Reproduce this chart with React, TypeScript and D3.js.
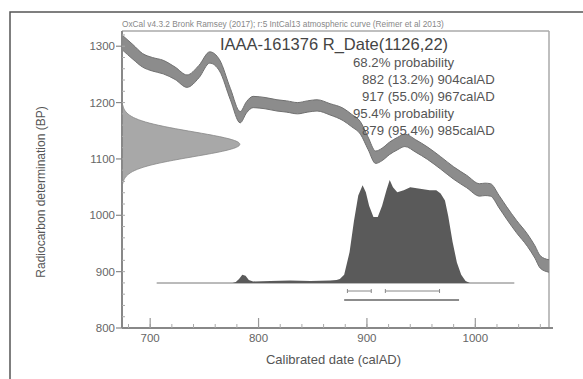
import React from 'react';
import * as d3 from 'd3';

const W = 583;
const H = 379;

// Calibration curve (IntCal13 section)
const curveYears = [674, 684, 693, 702, 712, 723, 734, 745, 755, 764, 774, 783, 789, 795, 806, 817, 826, 836, 845, 854, 866, 878, 886, 894, 901, 908, 914, 921, 928, 935, 945, 956, 968, 980, 992, 1004, 1009, 1014, 1022, 1029, 1038, 1048, 1055, 1060, 1068];
const curveBP = [1307, 1290, 1275, 1268, 1263, 1252, 1238, 1255, 1280, 1266, 1215, 1174, 1192, 1201, 1199, 1195, 1193, 1190, 1193, 1195, 1188, 1179, 1168, 1155, 1128, 1103, 1108, 1119, 1127, 1133, 1123, 1110, 1093, 1075, 1060, 1045, 1046, 1045, 1024, 1004, 980, 956, 935, 917, 910];
const curveSigma = [13, 13, 12, 12, 12, 11, 11, 11, 10, 10, 10, 10, 10, 10, 10, 10, 10, 10, 10, 10, 10, 11, 11, 11, 11, 11, 11, 11, 11, 11, 11, 11, 11, 11, 11, 11, 11, 11, 11, 11, 11, 11, 11, 11, 11];

// Radiocarbon determination
const rDateMean = 1126;
const rDateSigma = 22;

// Calibrated probability distribution (relative)
const calYears = [776, 779, 782, 785, 788, 791, 795, 811, 829, 848, 866, 872, 875, 879, 884, 888, 892, 896, 899, 902, 906, 910, 914, 918, 921, 924, 928, 934, 940, 946, 952, 958, 964, 968, 972, 975, 979, 983, 987, 991, 995];
const calProb = [0, 0.01, 0.04, 0.08, 0.07, 0.03, 0.015, 0.02, 0.025, 0.02, 0.025, 0.03, 0.04, 0.08, 0.3, 0.6, 0.85, 0.95, 0.88, 0.75, 0.64, 0.64, 0.75, 0.9, 1.0, 0.93, 0.88, 0.9, 0.93, 0.92, 0.91, 0.9, 0.9, 0.87, 0.8, 0.65, 0.4, 0.2, 0.08, 0.02, 0];

const range68: [number, number][] = [[882, 904], [917, 967]];
const range95: [number, number][] = [[879, 985]];
const baselineSpan: [number, number] = [706, 1036];

const xTicks = [700, 800, 900, 1000];
const xMinor = d3.range(680, 1061, 20);
const yTicks = [800, 900, 1000, 1100, 1200, 1300];
const yMinor = d3.range(820, 1321, 20);

const headerText = 'OxCal v4.3.2 Bronk Ramsey (2017); r:5 IntCal13 atmospheric curve (Reimer et al 2013)';
const titleText = 'IAAA-161376 R_Date(1126,22)';
const statLines = [
  { text: '68.2% probability', indent: 0 },
  { text: '882 (13.2%) 904calAD', indent: 1 },
  { text: '917 (55.0%) 967calAD', indent: 1 },
  { text: '95.4% probability', indent: 0 },
  { text: '879 (95.4%) 985calAD', indent: 1 },
];
const xTitle = 'Calibrated date (calAD)';
const yTitle = 'Radiocarbon determination (BP)';

const FONT = 'Liberation Sans, Arial, Helvetica, sans-serif';

export default function App() {
  const left = 122, right = 549, top = 31, bottom = 328;
  const x = d3.scaleLinear().domain([674, 1068]).range([left, right]);
  const y = d3.scaleLinear().domain([800, 1327]).range([bottom, top]);

  const curvePts = curveYears.map((yr, i) => ({ yr, bp: curveBP[i], s: curveSigma[i] }));
  const band = d3.area<any>()
    .x(d => x(d.yr))
    .y0(d => y(d.bp - d.s))
    .y1(d => y(d.bp + d.s))
    .curve(d3.curveMonotoneX)(curvePts) || '';
  const upper = d3.line<any>().x(d => x(d.yr)).y(d => y(d.bp + d.s)).curve(d3.curveMonotoneX)(curvePts) || '';
  const lower = d3.line<any>().x(d => x(d.yr)).y(d => y(d.bp - d.s)).curve(d3.curveMonotoneX)(curvePts) || '';

  // Gaussian of the radiocarbon date along the y axis
  const gBP = d3.range(rDateMean - 3.2 * rDateSigma, rDateMean + 3.2 * rDateSigma + 0.1, 2);
  const gW = d3.scaleLinear().domain([0, 1]).range([left, 240]);
  const gauss = d3.area<number>()
    .y(bp => y(bp))
    .x0(() => gW(0))
    .x1(bp => gW(Math.exp(-0.5 * ((bp - rDateMean) / rDateSigma) ** 2)))
    .curve(d3.curveBasis)(gBP) || '';

  // Calibrated distribution
  const baseY = 283;
  const pH = d3.scaleLinear().domain([0, 1]).range([baseY, 180]);
  const calPts = calYears.map((yr, i) => ({ yr, p: calProb[i] }));
  const calArea = d3.area<any>().x(d => x(d.yr)).y0(baseY).y1(d => pH(d.p))(calPts) || '';

  return (
    <svg width={W} height={H} style={{ position: 'absolute', left: 0, top: 0, background: '#fff' }} fontFamily={FONT}>
      <rect x={0} y={0} width={W} height={H} fill="#fff" />
      {/* outer frame */}
      <rect x={10} y={12} width={620} height={420} fill="none" stroke="#555" strokeWidth={1.5} />

      {/* header */}
      <text x={left} y={27} fontSize={8.3} fill="#888">{headerText}</text>

      {/* plot frame top/right */}
      <line x1={left} y1={top} x2={right} y2={top} stroke="#aaa" strokeWidth={1.5} />
      <line x1={right} y1={top} x2={right} y2={bottom} stroke="#aaa" strokeWidth={1.5} />

      {/* calibration curve band */}
      <path d={band} fill="#8c8c8c" />
      <path d={upper} fill="none" stroke="#707070" strokeWidth={1} />
      <path d={lower} fill="none" stroke="#707070" strokeWidth={1} />

      {/* radiocarbon gaussian */}
      <path d={gauss} fill="#a8a8a8" stroke="#888" strokeWidth={0.8} />

      {/* baseline */}
      <line x1={x(baselineSpan[0])} x2={x(baselineSpan[1])} y1={baseY} y2={baseY} stroke="#777" strokeWidth={1} />
      {/* calibrated distribution */}
      <path d={calArea} fill="#5a5a5a" />

      {/* range bars */}
      {range68.map((r, i) => (
        <g key={'r68' + i} stroke="#888" strokeWidth={1}>
          <line x1={x(r[0])} x2={x(r[1])} y1={291} y2={291} />
          <line x1={x(r[0])} x2={x(r[0])} y1={289} y2={293} />
          <line x1={x(r[1])} x2={x(r[1])} y1={289} y2={293} />
        </g>
      ))}
      {range95.map((r, i) => (
        <g key={'r95' + i} stroke="#666" strokeWidth={1.6}>
          <line x1={x(r[0])} x2={x(r[1])} y1={300} y2={300} />
        </g>
      ))}

      {/* axes */}
      <line x1={left} y1={top} x2={left} y2={bottom} stroke="#888" strokeWidth={2} />
      <line x1={left} y1={bottom} x2={right + 4} y2={bottom} stroke="#888" strokeWidth={2} />
      {yMinor.map(v => (
        <line key={'ym' + v} x1={left} x2={left + 3} y1={y(v)} y2={y(v)} stroke="#aaa" strokeWidth={1} />
      ))}
      {yTicks.map(v => (
        <g key={'yt' + v}>
          <line x1={left - 6} x2={left} y1={y(v)} y2={y(v)} stroke="#888" strokeWidth={1.2} />
          <text x={left - 7} y={y(v)} dy="0.35em" textAnchor="end" fontSize={11.5} fill="#666">{v}</text>
        </g>
      ))}
      {xMinor.map(v => (
        <line key={'xm' + v} x1={x(v)} x2={x(v)} y1={bottom} y2={bottom - 4} stroke="#aaa" strokeWidth={1} />
      ))}
      {xTicks.map(v => (
        <g key={'xt' + v}>
          <line x1={x(v)} x2={x(v)} y1={bottom} y2={bottom - 10} stroke="#999" strokeWidth={1.2} />
          <text x={x(v)} y={bottom + 14} textAnchor="middle" fontSize={11.5} fill="#666">{v}</text>
        </g>
      ))}

      {/* titles */}
      <text x={(left + right) / 2 - 2} y={364} textAnchor="middle" fontSize={13} fill="#555">{xTitle}</text>
      <text transform={`translate(45,${192}) rotate(-90)`} textAnchor="middle" fontSize={12} fill="#555">{yTitle}</text>

      {/* label & stats */}
      <text x={220} y={50} fontSize={16.5} fill="#444">{titleText}</text>
      {statLines.map((l, i) => (
        <text key={'s' + i} x={l.indent ? 362 : 353} y={67 + i * 17} fontSize={13.2} fill="#555">{l.text}</text>
      ))}
    </svg>
  );
}
